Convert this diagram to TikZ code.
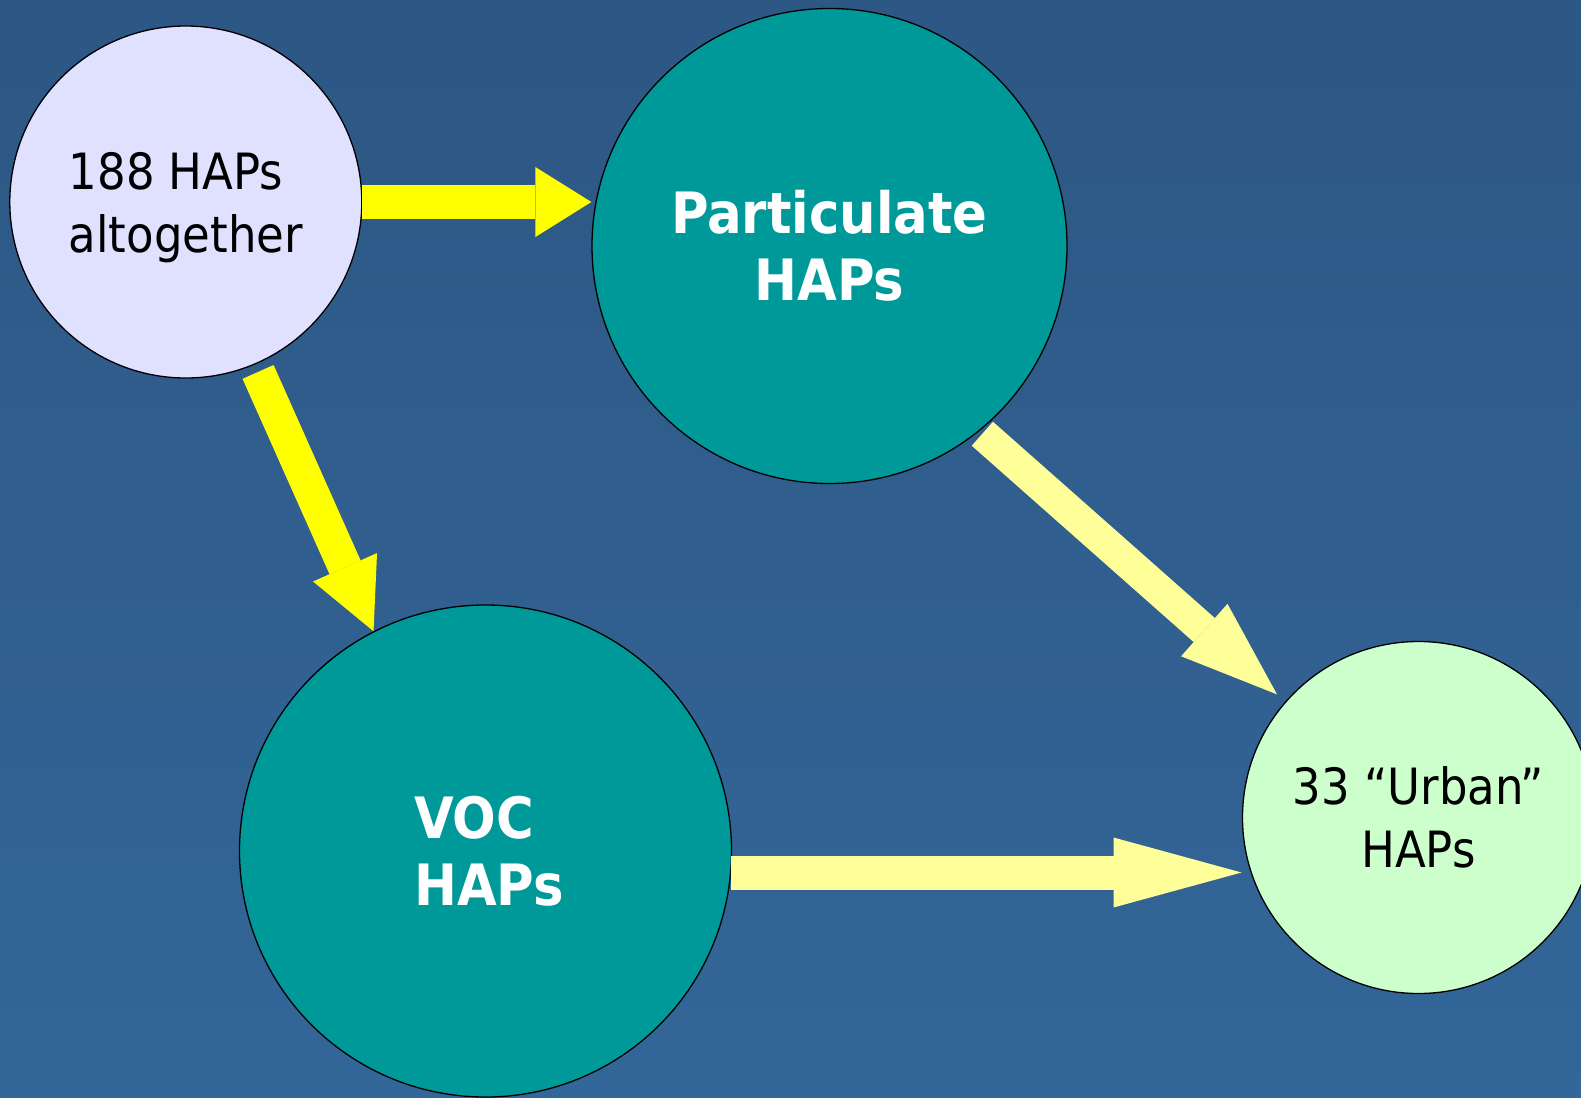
\documentclass[tikz,border=0pt]{standalone}
\usepackage{fontspec}
\setmainfont{DejaVu Sans Condensed}
\usetikzlibrary{arrows.meta}

\definecolor{bgtop}{HTML}{2D5784}
\definecolor{bgbottom}{HTML}{336699}
\definecolor{hapteal}{HTML}{009999}
\definecolor{hapblue}{HTML}{E0E0FF}
\definecolor{hapgreen}{HTML}{CCFFCC}
\definecolor{flowbright}{HTML}{FFFF00}
\definecolor{flowlight}{HTML}{FFFF99}

\begin{document}
\begin{tikzpicture}[
		x=1bp, y=-1bp,
		hap/.style={circle, draw=black, line width=1.3bp, inner sep=0pt, align=center},
		plain/.style={font=\fontsize{50bp}{63bp}\selectfont, text=black},
		strong/.style={font=\bfseries\fontsize{57bp}{67bp}\selectfont, text=white, fill=hapteal},
		flow/.style 2 args={draw=#1, line width=34bp, -{Triangle[length=#2, width=70bp, line width=0pt]}}
	]
	\shade[top color=bgtop, bottom color=bgbottom] (0,0) rectangle (1581,1097);
	\useasboundingbox (0,0) rectangle (1581,1097);

	\node[hap, plain, fill=hapblue, align=left, text depth=0pt, minimum size=352bp] (all) at (185.8,202) {188 HAPs\\altogether};
	\node[hap, strong, minimum size=475bp] (part) at (829.5,246) {Particulate\\HAPs};
	\node[hap, strong, align=left, minimum size=492bp] (voc) at (485.5,851) {\hspace*{7bp}VOC\\\hspace*{7bp}HAPs};
	\node[hap, plain, fill=hapgreen, minimum size=352bp] (urban) at (1418.5,817.5) {33 “Urban”\\HAPs};

	% all HAPs split up
	\draw[flow={flowbright}{56bp}] (all.east) -- (part.west |- all.east);
	\draw[flow={flowbright}{70bp}, shorten <=8bp] (all.-67.7) -- (voc.117.4);
	% both lead to the urban list
	\draw[flow={flowlight}{97bp}, line width=32bp, shorten <=4bp, shorten >=11bp] (part.-51.3) -- (urban.139.5);
	\draw[flow={flowlight}{128bp}, shorten >=9bp] (voc.-5.7) -- (voc.-5.7 -| urban.198);
\end{tikzpicture}
\end{document}
